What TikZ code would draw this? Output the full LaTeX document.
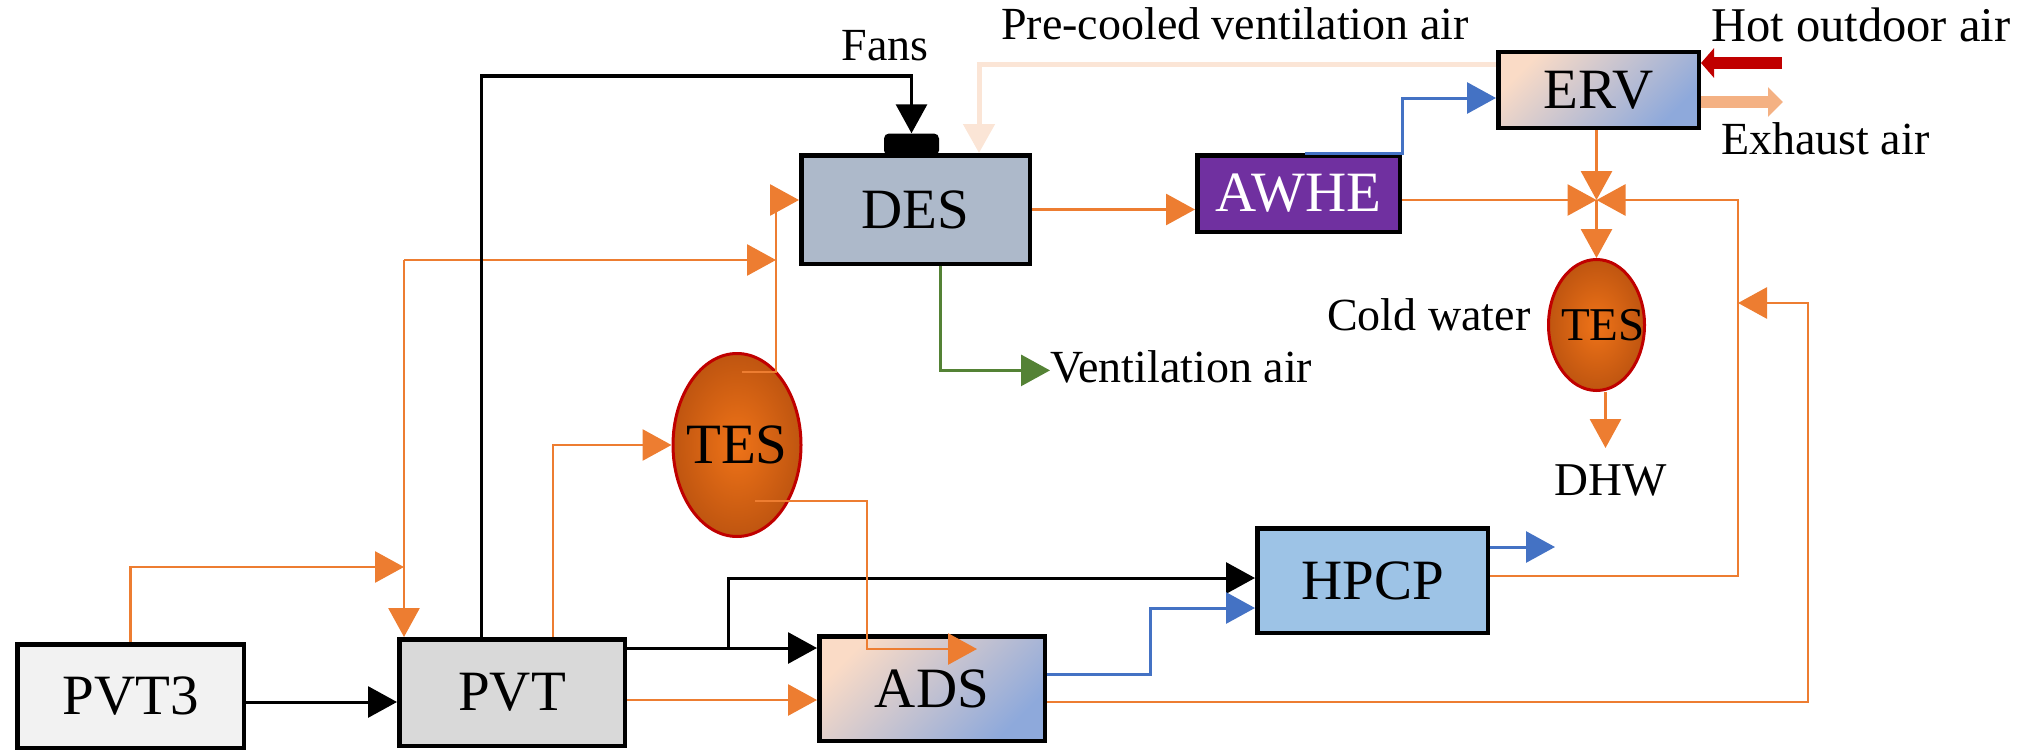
\documentclass[tikz,border=0pt]{standalone}
\usepackage{fontspec}
\setmainfont{Liberation Serif}
\usetikzlibrary{arrows.meta,shapes.geometric,calc}

\definecolor{lineorange}{HTML}{ED7D31}
\definecolor{lineblue}{HTML}{4472C4}
\definecolor{linegreen}{HTML}{548235}
\definecolor{linepeach}{HTML}{FBE5D6}
\definecolor{exhaust}{HTML}{F4B183}
\definecolor{hotred}{HTML}{C00000}
\definecolor{desfill}{HTML}{ADB9CA}
\definecolor{awhefill}{HTML}{7030A0}
\definecolor{hpcpfill}{HTML}{9DC3E6}
\definecolor{pvtfill}{HTML}{D9D9D9}
\definecolor{pvtthreefill}{HTML}{F2F2F2}
\definecolor{gradpeach}{HTML}{FADBC6}
\definecolor{gradblue}{HTML}{8EA9DB}
\definecolor{tesinner}{HTML}{EF7318}
\definecolor{tesouter}{HTML}{BF5510}
\definecolor{tesrim}{HTML}{C00000}

\newcommand{\lblfont}{\fontsize{46}{54}\selectfont}
\newcommand{\biglblfont}{\fontsize{48.5}{56}\selectfont}
\newcommand{\bxfont}{\fontsize{57}{66}\selectfont}
\newcommand{\tesfont}{\fontsize{47}{54}\selectfont}

\tikzset{
  unitbox/.style={draw=black, line width=4.5pt, inner sep=0pt, font=\bxfont},
  gradbox/.style={unitbox, top color=gradpeach, bottom color=gradblue, shading angle=45},
  tank/.style={ellipse, draw=tesrim, line width=3pt, inner color=tesinner,
               outer color=tesouter, inner sep=0pt},
  fanbox/.style={fill=black, rounded corners=5pt, minimum width=55pt,
                 minimum height=22pt, inner sep=0pt},
  flowtip/.style={-{Triangle[length=29pt,width=31pt]}},
  oflow/.style={draw=lineorange, line width=2.9pt, flowtip},
  bflow/.style={draw=black, line width=3pt, flowtip},
  blueflow/.style={draw=lineblue, line width=3pt, flowtip},
  gflow/.style={draw=linegreen, line width=3pt, flowtip},
  pflow/.style={draw=linepeach, line width=5pt, flowtip},
  hotflow/.style={draw=hotred, line width=12.5pt, -{Triangle[length=13pt,width=29pt]}},
  exflow/.style={draw=exhaust, line width=12.5pt, -{Triangle[length=15pt,width=29pt]}},
  lbl/.style={font=\lblfont, inner sep=0pt}
}

\begin{document}
\begin{tikzpicture}[x=1pt, y=-1pt]
\useasboundingbox (0,0) rectangle (2026,752);

% ---------- units ----------
\node[fanbox] (fan) at (911.5,144.5) {};
\node[unitbox, fill=pvtthreefill, minimum width=226.5pt, minimum height=103.5pt] (PVT3) at (130.5,696) {PVT3};
\node[unitbox, fill=pvtfill, minimum width=225.5pt, minimum height=106.5pt] (PVT) at (512,692.5) {PVT};
\node[gradbox, minimum width=225.5pt, minimum height=104.5pt] (ADS) at (932,688.5) {ADS};
\node[unitbox, fill=hpcpfill, minimum width=230.5pt, minimum height=104.5pt] (HPCP) at (1372.5,580.5) {HPCP};
\node[unitbox, fill=desfill, minimum width=228.5pt, minimum height=108.5pt] (DES) at (915.5,209.5) {DES};
\node[unitbox, fill=awhefill, text=white, minimum width=202.5pt, minimum height=76.5pt] (AWHE) at (1298.5,193.5) {AWHE};
\node[gradbox, minimum width=200.5pt, minimum height=75.5pt] (ERV) at (1598.5,90) {ERV};
% tank text is boxed at zero width so the ellipse keeps its set size
\node[tank, font=\bxfont, minimum width=128pt, minimum height=183pt] (tesA) at (737,445) {\makebox[0pt]{TES}};
\node[tank, font=\tesfont, minimum width=96pt, minimum height=131pt] (tesB) at (1596.5,325) {\makebox[0pt]{\hspace*{13pt}TES}};

% ---------- labels ----------
\node[lbl, anchor=base] (fans) at (885,61) {Fans};
\node[lbl, anchor=base west] (precool) at (1001,40) {Pre-cooled ventilation air};
\node[lbl, font=\biglblfont, anchor=base west] (hotair) at (1711,42) {Hot outdoor air};
\node[lbl, anchor=base west] (exair) at (1721,154) {Exhaust air};
\node[lbl, anchor=base west] (ventlbl) at (1050,382) {Ventilation air};
\node[lbl, anchor=base west] (coldw) at (1327,330) {Cold water};
\node[lbl, font=\tesfont, anchor=base] (dhw) at (1611,495) {DHW};

% ---------- junction points ----------
\coordinate (mergeA) at (404,567);
\coordinate (splitA) at (404,260);
\coordinate (riserA) at (776,200);
\coordinate (branch) at (728,648);
\coordinate (adsIn) at (977,649);
\coordinate (blueBend) at (1150,608);
\coordinate (hub) at (1596.5,200);
\coordinate (riserB) at (1738,200);
\coordinate (loopB) at (1808,303);
\coordinate (hpcpOut) at (1555,547);

% ---------- PVT side ----------
\draw[bflow] ([yshift=-6pt]PVT3.east) -- ([yshift=-6pt]PVT3.east -| PVT.west);
\draw[oflow] (PVT3.north) |- (mergeA);
\draw[oflow] (splitA) -- (splitA |- PVT.north);
\draw[oflow] (splitA) -- (splitA -| riserA);
\draw[oflow] ($(tesA.center)+(5,-73)$) -| (riserA) -- (riserA -| DES.west);
\draw[bflow] ([xshift=-31pt]PVT.north) -- ++(0,-561) -| (fan.north);
\draw[oflow] ([xshift=41pt]PVT.north) |- (tesA.west);
\draw[bflow] (PVT.east |- branch) -- (ADS.west |- branch);
\draw[bflow] (branch) |- ([yshift=2.5pt]HPCP.west);
\draw[oflow] ([yshift=-7.5pt]PVT.east) -- ([yshift=-7.5pt]PVT.east -| ADS.west);
\draw[oflow] ($(tesA.center)+(18,56)$) -| ($(adsIn)+(-110,0)$) -- (adsIn);

% ---------- DES / AWHE / ERV ----------
\draw[pflow] ([yshift=25pt]ERV.west) -| ([xshift=63.5pt]DES.north);
\draw[oflow] (DES.east) -- (DES.east -| AWHE.west);
\draw[gflow] ([xshift=24.5pt]DES.south) |- ([yshift=-4pt]ventlbl.west);
\draw[blueflow] ([xshift=6.5pt]AWHE.north) -- (AWHE.north east) |- ([yshift=-8pt]ERV.west);
\draw[hotflow] ([xshift=81pt,yshift=27pt]ERV.east) -- ([yshift=27pt]ERV.east);
\draw[exflow] ([yshift=-12pt]ERV.east) -- ++(82,0);

% ---------- cold water collector ----------
\draw[oflow] ([yshift=-6.5pt]AWHE.east) -- (hub);
\draw[oflow] (ERV.south -| hub) -- (hub);
\draw[oflow] ([yshift=4.5pt]HPCP.east) -| (riserB) -- (hub);
\draw[oflow] (hub) -- (hub |- tesB.north);
\draw[oflow] ([xshift=9pt]tesB.south) -- ([xshift=9pt,yshift=-56pt]tesB.south);

% ---------- ADS / HPCP outlets ----------
\draw[blueflow] ([yshift=14.5pt]ADS.east) -| (blueBend) -- (blueBend -| HPCP.west);
\draw[oflow] ([yshift=-13.5pt]ADS.east) -| (loopB) -- (loopB -| riserB);
\draw[blueflow] (hpcpOut -| HPCP.east) -- (hpcpOut);
\end{tikzpicture}
\end{document}
